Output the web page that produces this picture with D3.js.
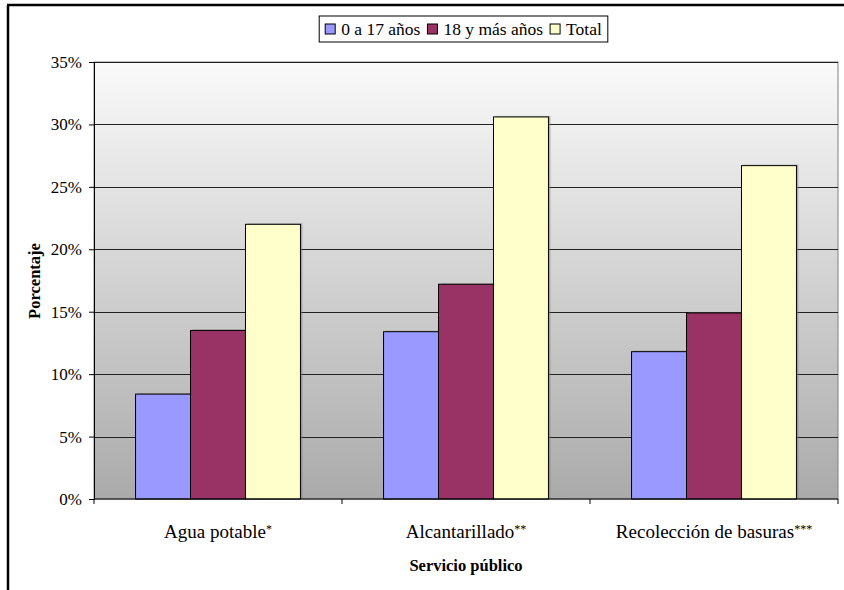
<!DOCTYPE html>
<html>
<head>
<meta charset="utf-8">
<script src="https://cdn.jsdelivr.net/npm/d3@7"></script>
<style>
  html, body { margin: 0; padding: 0; background: #fff; }
  svg { display: block; font-family: "Liberation Serif", "Times New Roman", serif; }
</style>
</head>
<body>
<svg id="chart" width="844" height="590"></svg>
<script>
// Servicios públicos: porcentaje por grupo de edad
const categories = ["Agua potable", "Alcantarillado", "Recolección de basuras"];
const categoryMarks = ["*", "**", "***"];
const seriesNames = ["0 a 17 años", "18 y más años", "Total"];
const seriesColors = ["#9999ff", "#993366", "#ffffcc"];
const valuesChildren = [8.4, 13.4, 11.8];
const valuesAdults = [13.5, 17.2, 14.9];
const valuesTotal = [22.0, 30.6, 26.7];
const yTicks = [0, 5, 10, 15, 20, 25, 30, 35];

const series = [valuesChildren, valuesAdults, valuesTotal];

const svg = d3.select("#chart");
const plot = { left: 94, right: 838, top: 62, bottom: 499 };

// Outer frame (top and left edges)
svg.append("line").attr("x1", 7).attr("x2", 844).attr("y1", 5).attr("y2", 5)
  .attr("stroke", "#000").attr("stroke-width", 2.5);
svg.append("line").attr("x1", 8).attr("x2", 8).attr("y1", 5).attr("y2", 590)
  .attr("stroke", "#000").attr("stroke-width", 2.5);

// Scales
const x0 = d3.scaleBand().domain(categories).range([plot.left, plot.right])
  .paddingInner(0.335).paddingOuter(0.1675);
const x1 = d3.scaleBand().domain(seriesNames).range([0, x0.bandwidth()]);
const y = d3.scaleLinear().domain([0, 35]).range([plot.bottom, plot.top]);

// Plot background gradient
const defs = svg.append("defs");
const grad = defs.append("linearGradient").attr("id", "bg")
  .attr("x1", 0).attr("y1", 0).attr("x2", 0).attr("y2", 1);
grad.append("stop").attr("offset", "0%").attr("stop-color", "#fafafa");
grad.append("stop").attr("offset", "100%").attr("stop-color", "#aaaaaa");

svg.append("rect")
  .attr("x", plot.left).attr("y", plot.top)
  .attr("width", plot.right - plot.left).attr("height", plot.bottom - plot.top)
  .attr("fill", "url(#bg)").attr("stroke", "#808080").attr("stroke-width", 1);

// Gridlines
svg.append("g").selectAll("line").data(yTicks.filter(d => d > 0)).join("line")
  .attr("x1", plot.left).attr("x2", plot.right)
  .attr("y1", d => Math.round(y(d)) + 0.5).attr("y2", d => Math.round(y(d)) + 0.5)
  .attr("stroke", "#222").attr("stroke-width", 1);

// Bars
const groups = svg.append("g").selectAll("g").data(categories).join("g")
  .attr("transform", d => `translate(${x0(d)},0)`);

groups.each(function(cat, ci) {
  const g = d3.select(this);
  seriesNames.forEach((s, si) => {
    const v = series[si][ci];
    // soft shadow
    g.append("rect")
      .attr("x", x1(s) + 2).attr("y", y(v) - 1)
      .attr("width", x1.bandwidth()).attr("height", plot.bottom - y(v) + 1)
      .attr("fill", "#777").attr("opacity", 0.5);
    g.append("rect")
      .attr("x", x1(s)).attr("y", y(v))
      .attr("width", x1.bandwidth()).attr("height", plot.bottom - y(v))
      .attr("fill", seriesColors[si]).attr("stroke", "#000").attr("stroke-width", 1);
  });
});

// Y axis
const yAxis = d3.axisLeft(y).tickValues(yTicks).tickFormat(d => d + "%")
  .tickSize(5).tickPadding(7);
const yg = svg.append("g").attr("transform", `translate(${plot.left},0)`).call(yAxis);
yg.select(".domain").attr("stroke", "#000");
yg.selectAll(".tick line").attr("stroke", "#000");
yg.selectAll("text").attr("font-family", "Liberation Serif, serif")
  .attr("font-size", 17).attr("fill", "#000");

// X axis: ticks at category boundaries
svg.append("line").attr("x1", plot.left).attr("x2", plot.right)
  .attr("y1", plot.bottom).attr("y2", plot.bottom).attr("stroke", "#000");
const bounds = categories.map(c => x0(c) - x0.step() * x0.paddingInner() / 2)
  .concat([plot.right]);
svg.append("g").selectAll("line").data(bounds).join("line")
  .attr("x1", d => d).attr("x2", d => d)
  .attr("y1", plot.bottom).attr("y2", plot.bottom + 5).attr("stroke", "#000");

const catLabels = svg.append("g").selectAll("text").data(categories).join("text")
  .attr("x", d => x0(d) + x0.bandwidth() / 2)
  .attr("y", 538)
  .attr("text-anchor", "middle")
  .attr("font-size", 19).attr("fill", "#000");
catLabels.append("tspan").text(d => d);
catLabels.append("tspan").text((d, i) => categoryMarks[i])
  .attr("font-size", 12).attr("dy", -5);

// Axis titles
svg.append("text").attr("x", 466).attr("y", 571).attr("text-anchor", "middle")
  .attr("font-size", 16.5).attr("font-weight", "bold").text("Servicio público");
svg.append("text").attr("transform", "translate(40,281) rotate(-90)")
  .attr("text-anchor", "middle").attr("font-size", 16.5).attr("font-weight", "bold")
  .text("Porcentaje");

// Legend
const legend = svg.append("g");
const legendBox = legend.append("rect").attr("fill", "#fff").attr("stroke", "#000");
let lx = 0;
seriesNames.forEach((s, i) => {
  const it = legend.append("g");
  it.append("rect").attr("x", lx).attr("y", -5).attr("width", 10).attr("height", 10)
    .attr("fill", seriesColors[i]).attr("stroke", "#000");
  const t = it.append("text").attr("x", lx + 16).attr("y", 5.5)
    .attr("font-size", 17.5).text(s);
  lx += 16 + t.node().getComputedTextLength() + 7;
});
const legendW = lx - 7;
const legendCx = 463.5;
legend.attr("transform", `translate(${legendCx - legendW / 2},29)`);
legendBox.attr("x", -6).attr("y", -13).attr("width", legendW + 12).attr("height", 26);
</script>
</body>
</html>
